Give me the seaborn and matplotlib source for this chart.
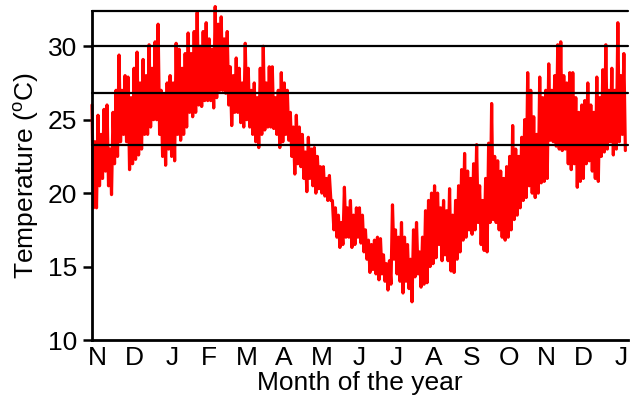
import numpy as np
import pandas as pd
import matplotlib
matplotlib.use("Agg")
import matplotlib.pyplot as plt
import seaborn as sns

# Temperature record (°C): successive highs and lows, evenly spaced from
# late October to early January of the following year.
temp_high = [
    26.0, 23.5, 25.3, 24.0, 25.7, 26.0, 23.0, 25.5, 27.0, 29.4,
    27.0, 28.0, 27.9, 26.5, 28.5, 29.6, 27.5, 29.1, 28.0, 30.1,
    28.5, 30.3, 31.5, 27.0, 26.7, 27.5, 28.0, 27.5, 30.2, 29.8,
    28.5, 29.5, 30.9, 29.5, 31.0, 32.3, 30.0, 31.0, 31.6, 30.5,
    29.8, 32.7, 31.5, 32.0, 30.5, 31.0, 28.6, 28.0, 29.2, 28.5,
    27.5, 30.2, 28.5, 27.0, 27.5, 26.5, 28.5, 30.0, 27.5, 28.6,
    28.6, 26.5, 27.0, 28.2, 27.5, 27.0, 25.5, 24.5, 25.3, 24.5,
    24.0, 22.8, 23.8, 23.0, 23.1, 22.5, 21.8, 21.8, 21.0, 21.2,
    19.5, 19.0, 18.5, 18.0, 20.4, 19.0, 19.5, 18.5, 19.0, 19.0,
    18.5, 17.5, 16.8, 16.5, 16.8, 17.0, 16.9, 15.8, 15.2, 15.4,
    19.2, 17.5, 17.0, 18.0, 17.0, 16.5, 15.5, 17.5, 18.0, 16.0,
    17.0, 18.8, 19.5, 20.0, 20.5, 20.0, 19.0, 19.5, 18.8, 20.3,
    18.5, 19.5, 20.5, 21.6, 22.7, 21.5, 21.0, 22.0, 23.3, 20.5,
    19.5, 21.0, 23.4, 26.1, 22.5, 22.2, 21.5, 21.0, 21.8, 22.5,
    24.6, 23.0, 22.5, 23.8, 25.0, 28.2, 27.0, 25.2, 24.0, 27.9,
    26.5, 27.0, 28.8, 27.0, 28.0, 30.1, 30.3, 28.0, 27.5, 28.2,
    28.2, 26.5, 25.5, 26.0, 26.3, 27.5, 26.0, 25.5, 27.9, 26.5,
    28.4, 30.1, 27.0, 28.5, 27.0, 31.6, 28.0, 29.5,
]
temp_low = [
    19.0, 19.0, 20.5, 21.0, 21.5, 20.5, 19.9, 22.0, 22.5, 23.5,
    24.0, 23.5, 21.6, 22.0, 22.3, 22.6, 23.0, 24.0, 24.0, 24.5,
    25.0, 25.0, 24.0, 22.5, 21.9, 23.0, 22.5, 22.2, 24.0, 23.6,
    24.0, 24.5, 25.5, 25.2, 25.5, 26.0, 25.9, 26.3, 26.3, 26.3,
    25.8, 26.5, 27.0, 27.0, 26.8, 26.0, 24.6, 25.5, 25.5, 24.8,
    24.5, 25.0, 24.5, 24.0, 23.5, 23.1, 24.0, 24.3, 24.5, 24.5,
    24.4, 24.0, 23.1, 23.5, 24.0, 23.6, 22.5, 21.3, 22.0, 21.8,
    21.0, 20.1, 21.0, 20.5, 20.0, 20.3, 20.0, 19.8, 19.5, 19.5,
    17.5, 17.0, 16.3, 16.5, 17.0, 17.0, 16.3, 16.5, 17.0, 16.6,
    16.0, 15.5, 14.6, 14.8, 14.5, 14.1, 14.5, 14.0, 13.4, 13.8,
    15.5, 14.5, 14.0, 13.2, 14.0, 13.5, 12.6, 14.3, 14.5, 13.6,
    13.8, 13.9, 15.0, 15.2, 15.6, 16.5, 15.4, 15.8, 15.4, 14.7,
    14.6, 15.5, 16.0, 16.8, 17.0, 17.5, 17.2, 17.5, 18.0, 16.5,
    16.1, 16.0, 18.0, 18.2, 18.0, 17.5, 17.0, 16.8, 17.0, 17.5,
    18.2, 18.5, 19.0, 19.5, 19.7, 20.5, 20.0, 19.7, 20.0, 20.7,
    20.8, 21.0, 23.6, 23.5, 23.2, 23.0, 22.9, 23.0, 22.0, 21.6,
    22.0, 20.4, 20.8, 21.0, 22.0, 22.2, 21.5, 21.0, 20.8, 22.5,
    22.8, 23.0, 23.5, 22.6, 23.0, 23.5, 24.0, 22.9,
]

# Record spans from just before 1 November to just after 1 January
# (in months counted from 1 November).
record_start = -0.134
record_end = 14.12

month_labels = ["N", "D", "J", "F", "M", "A", "M", "J",
                "J", "A", "S", "O", "N", "D", "J"]

# Reference temperature levels drawn as horizontal rules
ref_levels = [23.3, 26.8, 30.0, 32.4]

sns.set_style("ticks")
plt.rcParams["font.family"] = ["Liberation Sans", "DejaVu Sans"]
plt.rcParams["mathtext.fontset"] = "custom"
plt.rcParams["mathtext.rm"] = "Liberation Sans"
for key in ("text.color", "axes.labelcolor", "xtick.color", "ytick.color"):
    plt.rcParams[key] = "black"

# Interleave highs and lows into one continuous trace
temps = np.ravel(np.column_stack([temp_high, temp_low]))
df = pd.DataFrame({
    "month": np.linspace(record_start, record_end, len(temps)),
    "temp": temps,
})

fig = plt.figure(figsize=(6.34, 4.04), dpi=100)
ax = fig.add_axes([0.1451, 0.1584, 0.8454, 0.8144])

sns.lineplot(data=df, x="month", y="temp", color="#ff0000", lw=2.3,
             ax=ax, clip_on=False, zorder=2)

for lvl in ref_levels:
    ax.axhline(lvl, color="black", lw=1.6, zorder=3, clip_on=False)

ax.set_xlim(-0.134, 14.19)
ax.set_ylim(10, 32.4)
ax.set_xticks(range(len(month_labels)))
ax.set_xticklabels(month_labels)
ax.set_yticks([10, 15, 20, 25, 30])

ax.tick_params(axis="x", length=0, pad=4, labelsize=19)
ax.tick_params(axis="y", length=6.5, width=1.8, pad=4, labelsize=19,
               direction="out")

ax.spines["right"].set_visible(False)
ax.spines["top"].set_visible(False)
for side in ("left", "bottom"):
    ax.spines[side].set_linewidth(2.0)
    ax.spines[side].set_color("black")

ax.set_xlabel("Month of the year", fontsize=19, labelpad=1)
ax.set_ylabel("Temperature ($^{\\mathrm{o}}$C)", fontsize=19, labelpad=5)

fig.savefig("out.png", dpi=100)
